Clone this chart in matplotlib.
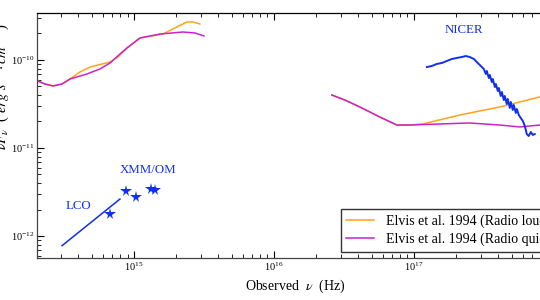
import numpy as np
import matplotlib
matplotlib.use("Agg")
import matplotlib.pyplot as plt
from matplotlib.ticker import LogLocator, NullFormatter

plt.rcParams['font.family'] = ['Liberation Serif', 'DejaVu Serif']
plt.rcParams['mathtext.fontset'] = 'stix'

# log10 values
# Elvis et al. 1994, radio quiet (optical/UV part and X-ray part)
rq_opt_lognu = [14.307, 14.364, 14.421, 14.486, 14.543, 14.664, 14.757, 14.829, 14.900,
                14.950, 15.043, 15.186, 15.350, 15.436, 15.500]
rq_opt_logf = [-10.235, -10.273, -10.295, -10.273, -10.216, -10.159, -10.102, -10.034, -9.932,
               -9.864, -9.750, -9.705, -9.682, -9.693, -9.727]
rq_x_lognu = [16.414, 16.507, 16.614, 16.757, 16.879, 16.971, 17.186, 17.400, 17.614,
              17.757, 17.829, 17.900, 17.993]
rq_x_logf = [-10.398, -10.455, -10.534, -10.648, -10.739, -10.739, -10.727, -10.716, -10.739,
             -10.761, -10.750, -10.739, -10.716]

# Elvis et al. 1994, radio loud
rl_opt_lognu = [14.307, 14.364, 14.421, 14.486, 14.543, 14.614, 14.686, 14.829, 14.886,
                14.950, 15.043, 15.207, 15.293, 15.379, 15.421, 15.471]
rl_opt_logf = [-10.235, -10.273, -10.295, -10.273, -10.216, -10.136, -10.080, -10.023, -9.966,
               -9.864, -9.750, -9.705, -9.636, -9.568, -9.568, -9.591]
rl_x_lognu = [16.414, 16.507, 16.614, 16.757, 16.879, 16.971, 17.064, 17.329, 17.614,
              17.757, 17.900, 17.993]
rl_x_logf = [-10.398, -10.455, -10.534, -10.648, -10.739, -10.739, -10.727, -10.625, -10.534,
             -10.477, -10.420, -10.364]

# NICER spectrum
nicer_lognu = [17.093, 17.129, 17.164, 17.200, 17.236, 17.271, 17.307, 17.343, 17.371, 17.400,
               17.429, 17.457, 17.486, 17.500, 17.514, 17.521, 17.536, 17.543, 17.557, 17.564,
               17.579, 17.586, 17.600, 17.607, 17.621, 17.629, 17.643, 17.650, 17.664, 17.671,
               17.686, 17.693, 17.707, 17.714, 17.729, 17.736, 17.750, 17.764, 17.779, 17.793,
               17.800, 17.807, 17.821, 17.836, 17.850, 17.864]
nicer_logf = [-10.080, -10.068, -10.045, -10.034, -10.011, -9.989, -9.977, -9.966, -9.955, -9.966,
              -9.989, -10.034, -10.080, -10.102, -10.159, -10.125, -10.205, -10.170, -10.250, -10.216,
              -10.307, -10.273, -10.352, -10.318, -10.409, -10.364, -10.455, -10.409, -10.500, -10.443,
              -10.545, -10.477, -10.568, -10.511, -10.602, -10.557, -10.625, -10.659, -10.693, -10.750,
              -10.795, -10.841, -10.864, -10.818, -10.852, -10.841]

# LCO power law and XMM/OM photometry
lco_lognu = [14.486, 14.900]
lco_logf = [-12.110, -11.580]
om_lognu = [14.829, 14.943, 15.014, 15.119, 15.150]
om_logf = [-11.750, -11.485, -11.553, -11.466, -11.477]

orange = '#ffa31a'
magenta = '#cc22cc'
blue = '#1030ee'

fig = plt.figure(figsize=(5.4, 3.0), dpi=100)
ax = fig.add_axes([0.0685, 0.14, 0.957, 0.8167])

ax.plot(10**np.array(rl_opt_lognu), 10**np.array(rl_opt_logf), color=orange, lw=1.1,
        label='Elvis et al. 1994 (Radio loud)')
ax.plot(10**np.array(rl_x_lognu), 10**np.array(rl_x_logf), color=orange, lw=1.1)
ax.plot(10**np.array(rq_opt_lognu), 10**np.array(rq_opt_logf), color=magenta, lw=1.1,
        label='Elvis et al. 1994 (Radio quiet)')
ax.plot(10**np.array(rq_x_lognu), 10**np.array(rq_x_logf), color=magenta, lw=1.1)

ax.plot(10**np.array(nicer_lognu), 10**np.array(nicer_logf), color=blue, lw=1.4)
ax.plot(10**np.array(lco_lognu), 10**np.array(lco_logf), color=blue, lw=1.1)
ax.plot(10**np.array(om_lognu), 10**np.array(om_logf), '*', color=blue, ms=8.5, mew=0)

ax.text(10**14.6, 10**-11.66, 'LCO', color=blue, fontsize=9.3, ha='center', va='center')
ax.text(10**15.1, 10**-11.25, 'XMM/OM', color=blue, fontsize=9.3, ha='center', va='center')
ax.text(10**17.36, 10**-9.66, 'NICER', color=blue, fontsize=9.3, ha='center', va='center')

ax.set_xscale('log')
ax.set_yscale('log')
ax.set_xlim(10**14.307, 1e18)
ax.set_ylim(10**-12.25, 10**-9.466)

ax.xaxis.set_minor_locator(LogLocator(base=10, subs=np.arange(2, 10)))
ax.xaxis.set_minor_formatter(NullFormatter())
ax.yaxis.set_minor_locator(LogLocator(base=10, subs=np.arange(2, 10)))
ax.yaxis.set_minor_formatter(NullFormatter())
ax.tick_params(which='both', direction='in', top=True, right=True, labelsize=7.5, pad=2)
ax.tick_params(which='major', length=5, width=0.8)
ax.tick_params(which='minor', length=3, width=0.6)
for s in ax.spines.values():
    s.set_linewidth(0.9)
    s.set_color('#444444')
ax.spines['top'].set_color('black')

ax.set_xlabel(r'Observed  $\nu$  (Hz)', fontsize=10, labelpad=3)
ax.set_ylabel(r'$\nu F_\nu$  ( $erg\ s^{-1}\!\cdot cm^{-2}$ )', fontsize=10.5)
ax.yaxis.set_label_coords(-0.051, 0.70)

ax.legend(loc='lower left', fontsize=10, frameon=True, fancybox=False,
          edgecolor='#333333', framealpha=1, handlelength=2.0, handletextpad=0.85,
          borderpad=0.4, labelspacing=0.35, borderaxespad=0,
          bbox_to_anchor=(0.588, 0.0245))

fig.savefig('out.png', dpi=100)
